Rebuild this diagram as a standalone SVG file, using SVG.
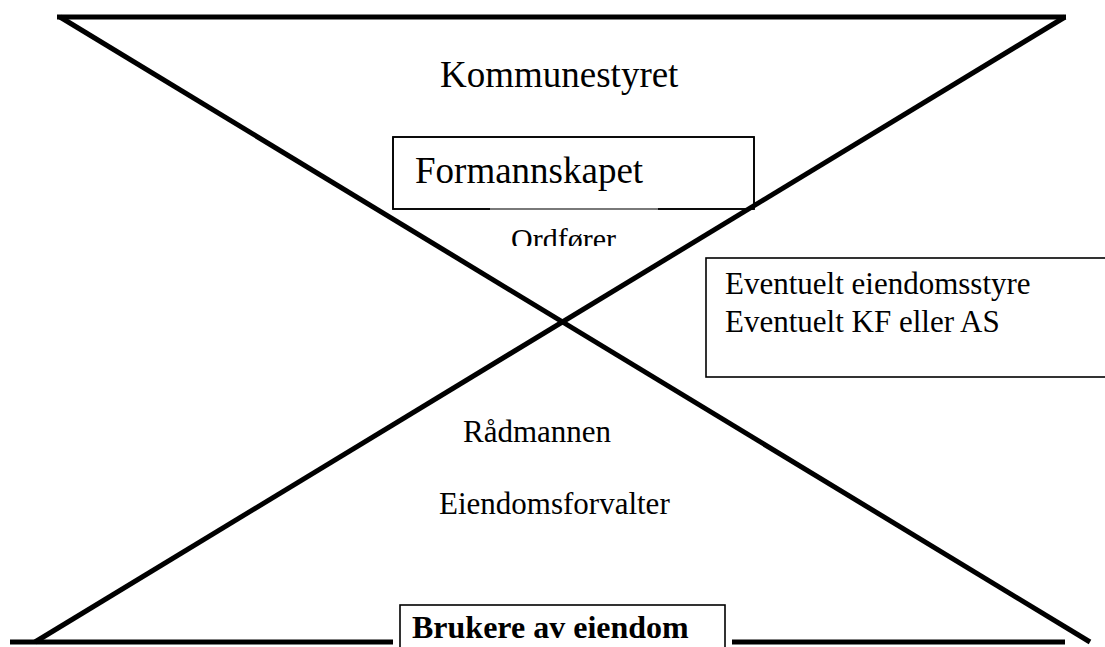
<svg xmlns="http://www.w3.org/2000/svg" width="1105" height="647" viewBox="0 0 1105 647">
<style>
.t{font-family:"Liberation Serif","Times New Roman",serif;fill:#000}
.box{fill:#fff;stroke:#000;stroke-width:1.6}
.thick{stroke:#000;stroke-width:5;fill:none;stroke-linecap:butt}
</style>
<defs>
<clipPath id="ordclip"><rect x="480" y="210" width="180" height="36"/></clipPath>
</defs>
<rect width="1105" height="647" fill="#fff"/>
<g id="kommunestyret"><text class="t" x="440" y="87" font-size="37">Kommunestyret</text></g>
<g id="formannskapet">
<rect class="box" x="393" y="137" width="361" height="72" stroke="none"/>
<path d="M490 209 H393 V137 H754 V209 H658" fill="none" stroke="#000" stroke-width="1.6"/>
<line x1="490" y1="209" x2="658" y2="209" stroke="#c0c0c0" stroke-width="1.2"/>
<text class="t" x="415" y="183" font-size="37">Formannskapet</text>
</g>
<g id="ordforer"><text class="t" x="511" y="249" font-size="30" clip-path="url(#ordclip)">Ordfører</text></g>
<g id="eiendomsstyre">
<rect class="box" x="706" y="258" width="405" height="119"/>
<text class="t" x="725" y="294" font-size="31">Eventuelt eiendomsstyre</text>
<text class="t" x="725" y="332" font-size="31">Eventuelt KF eller AS</text>
</g>
<g id="radmannen"><text class="t" x="463" y="442" font-size="31">Rådmannen</text></g>
<g id="eiendomsforvalter"><text class="t" x="439" y="514" font-size="31">Eiendomsforvalter</text></g>
<g id="brukere">
<rect class="box" x="400" y="605" width="325" height="50"/>
<text class="t" x="412" y="638" font-size="32" font-weight="bold">Brukere av eiendom</text>
</g>
<g id="connectors">
<line class="thick" x1="57" y1="17" x2="1066" y2="17"/>
<line class="thick" x1="60" y1="17" x2="1090" y2="642"/>
<line class="thick" x1="1065" y1="17" x2="35" y2="642"/>
<line class="thick" x1="10" y1="642" x2="393" y2="642" stroke-width="4"/>
<line class="thick" x1="732" y1="642" x2="1065" y2="642" stroke-width="4"/>
</g>
</svg>
